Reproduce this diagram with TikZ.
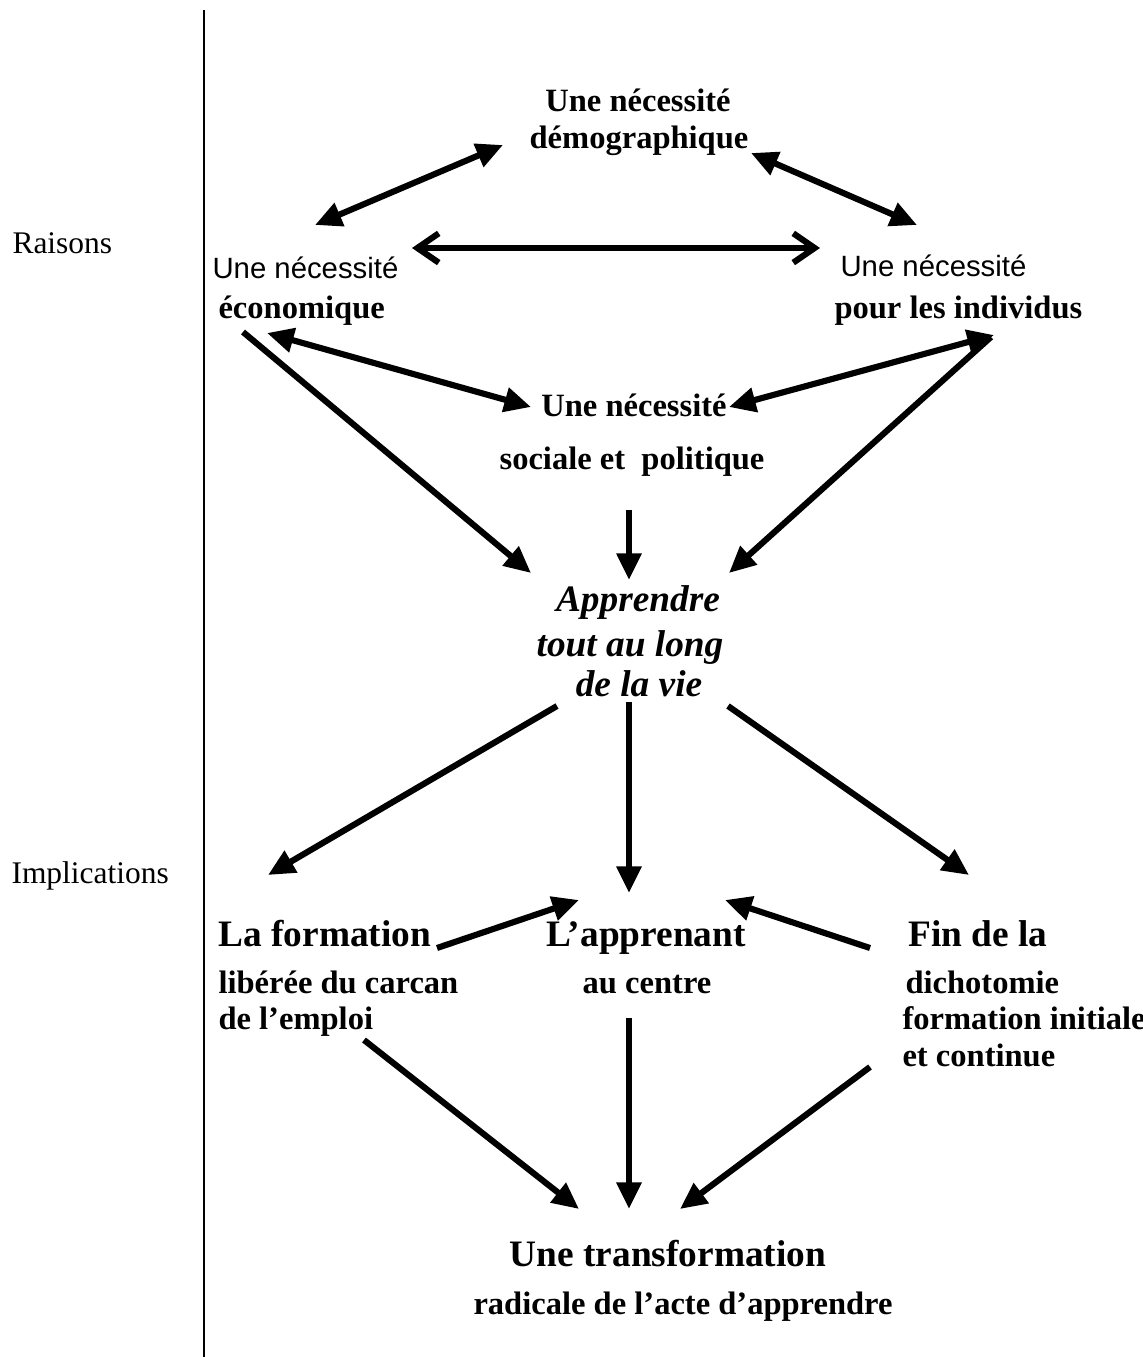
\documentclass[tikz,border=0pt]{standalone}
\usepackage{fontspec}
\setmainfont{Liberation Serif}
\setsansfont{Liberation Sans}
\usetikzlibrary{arrows.meta}

\tikzset{
  txt/.style={inner sep=0pt, text height=0.7em, text depth=0.2em},
  normal/.style={txt, font=\fontsize{11.8pt}{14pt}\selectfont},
  sans/.style={txt, font=\fontsize{11pt}{13pt}\sffamily},
  petit/.style={txt, font=\fontsize{12.2pt}{14pt}\selectfont\bfseries},
  grand/.style={txt, font=\fontsize{14pt}{16pt}\selectfont\bfseries},
  penche/.style={grand, font=\fontsize{14pt}{16pt}\selectfont\bfseries\itshape},
  fleche/.style={line width=2.3pt, -{Triangle[length=10pt,width=9pt]}},
  fleches/.style={line width=2.3pt, {Triangle[length=10pt,width=9pt]}-{Triangle[length=10pt,width=9pt]}},
  barbes/.style={line width=2.3pt, {Straight Barb[length=8pt,width=11pt]}-{Straight Barb[length=8pt,width=11pt]}}
}

\begin{document}
\begin{tikzpicture}[x=0.375pt,y=-0.375pt]
  \useasboundingbox (0,0) rectangle (1143,1357);
  \draw[line width=0.8pt] (204,10) -- (204,1357);

  % colonne de gauche
  \node[normal, anchor=west] (raisons) at (12,247) {Raisons};
  \node[normal, anchor=west] (implic)  at (11,877) {Implications};

  % raisons
  \node[petit] (demo)  at (638,105) {Une nécessité};
  \node[petit] (demo2) at (639,142) {démographique};
  \node[sans, anchor=west]  (eco)  at (212,272) {Une nécessité};
  \node[petit, anchor=west] (eco2) at (218,312) {économique};
  \node[sans, anchor=west]  (ind)  at (840,270) {Une nécessité};
  \node[petit, anchor=west] (ind2) at (834,312) {pour les individus};
  \node[petit] (soc)  at (634,410) {Une nécessité};
  \node[petit] (soc2) at (632,463) {sociale et~~politique};

  \node[penche] (vie)  at (638,605) {Apprendre};
  \node[penche] (vie2) at (630,650) {tout au long};
  \node[penche] (vie3) at (639,690) {de la vie};

  % implications
  \node[grand, anchor=west] (form)  at (218,940)  {La formation};
  \node[petit, anchor=west] (form2) at (218,987)  {libérée du carcan};
  \node[petit, anchor=west] (form3) at (218,1023) {de l’emploi};
  \node[grand] (app)  at (646,940) {L’apprenant};
  \node[petit] (app2) at (647,987) {au centre};
  \node[grand, anchor=west] (fin)  at (908,940)  {Fin de la};
  \node[petit, anchor=west] (fin2) at (905,987)  {dichotomie};
  \node[petit, anchor=west] (fin3) at (902,1023) {formation initiale};
  \node[petit, anchor=west] (fin4) at (902,1060) {et continue};

  \node[grand] (trans)  at (668,1260) {Une transformation};
  \node[petit] (trans2) at (683,1308) {radicale de l’acte d’apprendre};

  % bouts des fleches
  \coordinate (eco-demo) at (315,225);  \coordinate (demo-eco) at (503,145);
  \coordinate (demo-ind) at (751,153);  \coordinate (ind-demo) at (917,225);
  \coordinate (eco-ind)  at (412,248);  \coordinate (ind-eco)  at (820,248);
  \coordinate (eco-soc)  at (267,333);  \coordinate (soc-eco)  at (531,407);
  \coordinate (soc-ind)  at (729,407);  \coordinate (ind-soc)  at (994,335);
  \coordinate (eco-vie)  at (243,332);  \coordinate (vie-eco)  at (531,573);
  \coordinate (soc-vie)  at (629,510);  \coordinate (vie-soc)  at (629,580);
  \coordinate (ind-vie)  at (991,337);  \coordinate (vie-ind)  at (729,573);
  \coordinate (vie-form) at (557,706);  \coordinate (form-vie) at (268,875);
  \coordinate (vie-app)  at (629,702);  \coordinate (app-vie)  at (629,893);
  \coordinate (vie-fin)  at (728,706);  \coordinate (fin-vie)  at (969,875);
  \coordinate (form-app) at (437,948);  \coordinate (app-form) at (579,900);
  \coordinate (fin-app)  at (870,948);  \coordinate (app-fin)  at (725,900);
  \coordinate (form-trans) at (364,1040); \coordinate (trans-form) at (579,1209);
  \coordinate (app-trans)  at (629,1018); \coordinate (trans-app)  at (629,1209);
  \coordinate (fin-trans)  at (870,1067); \coordinate (trans-fin)  at (680,1209);

  \foreach \a/\b in {eco-demo/demo-eco, demo-ind/ind-demo, eco-soc/soc-eco, soc-ind/ind-soc}
    \draw[fleches] (\a) -- (\b);
  \draw[barbes] (eco-ind) -- (ind-eco);
  \foreach \a/\b in {eco-vie/vie-eco, soc-vie/vie-soc, ind-vie/vie-ind,
                     vie-form/form-vie, vie-app/app-vie, vie-fin/fin-vie,
                     form-app/app-form, fin-app/app-fin,
                     form-trans/trans-form, app-trans/trans-app, fin-trans/trans-fin}
    \draw[fleche] (\a) -- (\b);
\end{tikzpicture}
\end{document}
